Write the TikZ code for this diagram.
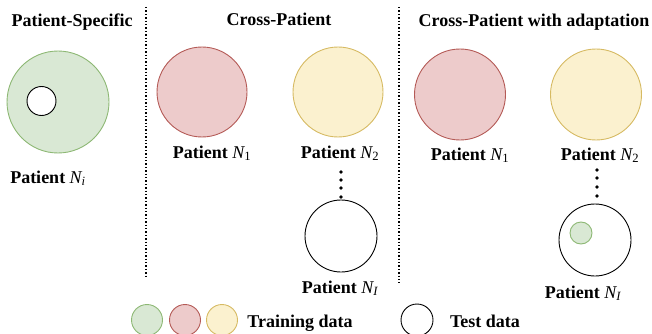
\documentclass[tikz,border=0pt]{standalone}
\usepackage{fontspec}
\setmainfont{Liberation Serif}
\usetikzlibrary{positioning}

\definecolor{gfill}{HTML}{D9E8D4}
\definecolor{gline}{HTML}{8DB874}
\definecolor{rfill}{HTML}{EDCBCB}
\definecolor{rline}{HTML}{B45A56}
\definecolor{yfill}{HTML}{FBF1CF}
\definecolor{yline}{HTML}{D6BA62}

\newcommand\patlbl[1]{Patient {\mdseries\itshape N}\textsubscript{\mdseries #1}}

\begin{document}
\begin{tikzpicture}[x=1pt, y=-1pt,
  font=\fontsize{18}{20}\selectfont\bfseries,
  disk/.style={circle, draw, inner sep=0pt, line width=0.9pt, minimum size=#1},
  gdisk/.style={disk=#1, fill=gfill, draw=gline},
  rdisk/.style={disk=#1, fill=rfill, draw=rline},
  ydisk/.style={disk=#1, fill=yfill, draw=yline},
  tdisk/.style={disk=#1, fill=white, draw=black},
  lbl/.style={anchor=base, inner sep=0pt},
  sep/.style={dotted, line width=1.4pt},
  dot/.style={circle, fill, inner sep=0pt, minimum size=3.8pt}]
\useasboundingbox (0,0) rectangle (652,334);

% separators
\coordinate (s1t) at (146,7);  \coordinate (s1b) at (146,278);
\coordinate (s2t) at (399,7);  \coordinate (s2b) at (399,283);
\draw[sep] (s1t) -- (s1b);
\draw[sep] (s2t) -- (s2b);

% titles
\node[lbl] (t1) at (72,27) {Patient-Specific};
\node[lbl] (t2) at (279,26) {Cross-Patient};
\node[lbl] (t3) at (534,27) {Cross-Patient with adaptation};

% patient-specific
\node[gdisk=102pt] (ps) at (58,102) {};
\node[tdisk=29pt] (pst) at (41.5,101) {};
\node[lbl] (psl) at (48,183) {\patlbl{\itshape i}};

% cross-patient
\node[rdisk=90pt] (c1) at (202,92) {};
\node[ydisk=90pt] (c2) at (338,92) {};
\node[tdisk=72pt] (cI) at (341,236) {};
\node[lbl] (c1l) at (212,158) {\patlbl{1}};
\node[lbl] (c2l) at (340,158) {\patlbl{2}};
\node[lbl] (cIl) at (340,293) {\patlbl{\itshape I}};
\foreach \y [count=\k] in {172,180,188,197}
  \node[dot] (cd\k) at (341,\y) {};

% cross-patient with adaptation
\node[rdisk=91pt] (a1) at (460,94.5) {};
\node[ydisk=91pt] (a2) at (596,94.5) {};
\node[tdisk=72pt] (aI) at (595,240) {};
\node[gdisk=22pt] (aIg) at (581,233) {};
\node[lbl] (a1l) at (470,160) {\patlbl{1}};
\node[lbl] (a2l) at (600,160) {\patlbl{2}};
\node[lbl] (aIl) at (583,298) {\patlbl{\itshape I}};
\foreach \y [count=\k] in {170,178,187,196}
  \node[dot] (ad\k) at (597,\y) {};

% legend
\node[gdisk=31pt] (lg) at (147,320) {};
\node[rdisk=31pt] (lr) at (185,320) {};
\node[ydisk=31pt] (ly) at (222,320) {};
\node[lbl] (ltr) at (300,327) {Training data};
\node[tdisk=32pt] (lt) at (417,320) {};
\node[lbl] (lte) at (485,327) {Test data};
\end{tikzpicture}
\end{document}
